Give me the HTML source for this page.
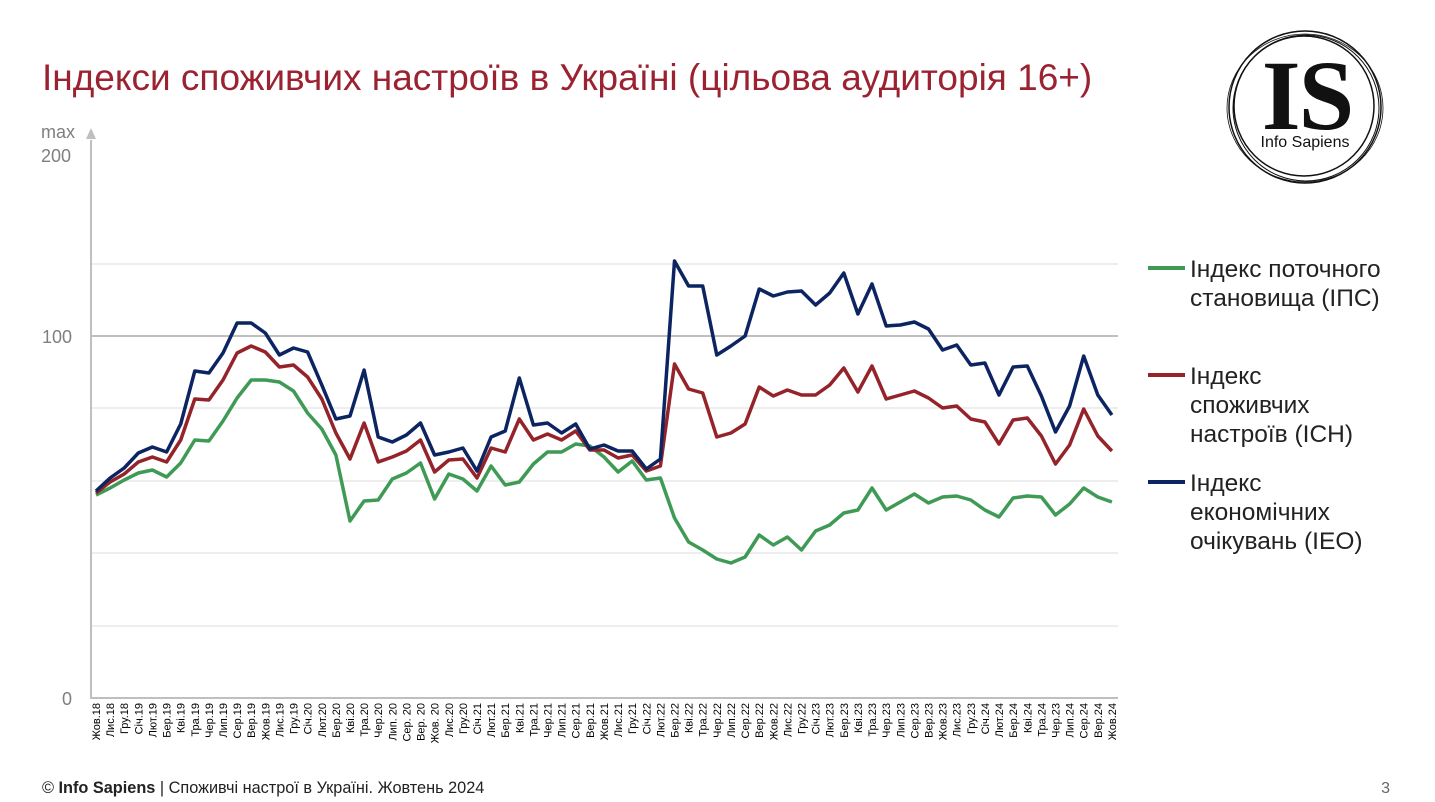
<!DOCTYPE html>
<html><head><meta charset="utf-8"><style>
html,body{margin:0;padding:0;background:#fff}
svg{display:block}
text{font-family:"Liberation Sans",sans-serif}
</style></head><body>
<svg id="s" width="1435" height="802" viewBox="0 0 1435 802" xmlns="http://www.w3.org/2000/svg">
<text x="42" y="90" font-size="37" fill="#9b2230">Індекси споживчих настроїв в Україні (цільова аудиторія 16+)</text>
<!-- logo -->
<g fill="none" stroke="#111">
<circle cx="1305" cy="107" r="76" stroke-width="1.5"/>
<circle cx="1306" cy="108" r="73" stroke-width="1"/>
<circle cx="1304" cy="106" r="70" stroke-width="1.5"/>
<ellipse cx="1305" cy="108" rx="78" ry="74" stroke-width="0.8"/>
</g>
<text x="1307" y="129" font-size="100" font-weight="bold" text-anchor="middle" fill="#111" style="font-family:'Liberation Serif',serif" letter-spacing="-2">IS</text>
<text x="1305" y="147" font-size="16" text-anchor="middle" fill="#111">Info Sapiens</text>
<!-- grid -->
<g stroke="#eeeeee" stroke-width="2">
<line x1="92" y1="264" x2="1118" y2="264"/>
<line x1="92" y1="408" x2="1118" y2="408"/>
<line x1="92" y1="481" x2="1118" y2="481"/>
<line x1="92" y1="553" x2="1118" y2="553"/>
<line x1="92" y1="626" x2="1118" y2="626"/>
</g>
<line x1="92" y1="336" x2="1118" y2="336" stroke="#bfbfbf" stroke-width="2"/>
<line x1="91" y1="140" x2="91" y2="699" stroke="#bfbfbf" stroke-width="2"/>
<line x1="90" y1="698" x2="1118" y2="698" stroke="#bfbfbf" stroke-width="2"/>
<polygon points="86,139 96,139 91,128" fill="#bfbfbf"/>
<g font-size="18" fill="#7f7f7f" text-anchor="end">
<text x="75" y="138">max</text>
<text x="71" y="162">200</text>
<text x="72" y="343">100</text>
<text x="72" y="705">0</text>
</g>
<g id="xl" font-size="11" fill="#000"></g>
<g id="ln" fill="none" stroke-width="3.5" stroke-linejoin="round"></g>
<!-- legend -->
<g font-size="24.5" fill="#222">
<line x1="1148" y1="268" x2="1185" y2="268" stroke="#3f9a55" stroke-width="4"/>
<text x="1190" y="277">Індекс поточного</text>
<text x="1190" y="306">становища (ІПС)</text>
<line x1="1148" y1="375" x2="1185" y2="375" stroke="#94232a" stroke-width="4"/>
<text x="1190" y="384">Індекс</text>
<text x="1190" y="413">споживчих</text>
<text x="1190" y="442">настроїв (ІСН)</text>
<line x1="1148" y1="482" x2="1185" y2="482" stroke="#0c2461" stroke-width="4"/>
<text x="1190" y="491">Індекс</text>
<text x="1190" y="520">економічних</text>
<text x="1190" y="549">очікувань (ІЕО)</text>
</g>
<text x="42" y="793" font-size="16.3" fill="#222">© <tspan font-weight="bold">Info Sapiens</tspan> | Споживчі настрої в Україні. Жовтень 2024</text>
<text x="1390" y="793" font-size="16" fill="#666" text-anchor="end">3</text>
</svg>
<script>
var L="Жов.18 Лис.18 Гру.18 Січ.19 Лют.19 Бер.19 Кві.19 Тра.19 Чер.19 Лип.19 Сер.19 Вер.19 Жов.19 Лис.19 Гру.19 Січ.20 Лют.20 Бер.20 Кві.20 Тра.20 Чер.20 Лип._20 Сер._20 Вер._20 Жов._20 Лис.20 Гру.20 Січ.21 Лют.21 Бер.21 Кві.21 Тра.21 Чер.21 Лип.21 Сер.21 Вер.21 Жов.21 Лис.21 Гру.21 Січ.22 Лют.22 Бер.22 Кві.22 Тра.22 Чер.22 Лип.22 Сер.22 Вер.22 Жов.22 Лис.22 Гру.22 Січ.23 Лют.23 Бер.23 Кві.23 Тра.23 Чер.23 Лип.23 Сер.23 Вер.23 Жов.23 Лис.23 Гру.23 Січ.24 Лют.24 Бер.24 Кві.24 Тра.24 Чер.23 Лип.24 Сер.24 Вер.24 Жов.24".split(" ");
var b=[491,478,468,453,447,452,424,371,373,353,323,323,333,355,348,352,385,419,416,370,437,442,435,423,455,452,448,471,437,431,378,425,423,433,424,449,445,451,451,469,459,261,286,286,355,346,336,289,296,292,291,305,293,273,314,284,326,325,322,329,350,345,365,363,395,367,366,396,432,406,356,395,415];
var r=[493,482,474,462,457,462,440,399,400,380,353,346,352,367,365,377,399,433,459,423,462,457,451,440,472,460,459,478,448,452,419,440,434,440,431,450,450,458,455,471,466,364,389,393,437,433,424,387,396,390,395,395,385,368,392,366,399,395,391,398,408,406,419,422,444,420,418,436,464,445,409,436,451];
var g=[495,488,480,473,470,477,463,440,441,421,398,380,380,382,391,413,429,455,521,501,500,479,473,463,499,474,479,491,466,485,482,464,452,452,444,446,457,472,461,480,478,518,542,550,559,563,557,535,545,537,550,531,525,513,510,488,510,502,494,503,497,496,500,510,517,498,496,497,515,504,488,497,502];
var ns="http://www.w3.org/2000/svg";
function X(i){return 96+i*14.11;}
var xl=document.getElementById("xl");
L.forEach(function(t,i){var e=document.createElementNS(ns,"text");e.setAttribute("text-anchor","end");e.setAttribute("transform","translate("+(X(i)+4)+",703) rotate(-90)");e.textContent=t.replace("_"," ");xl.appendChild(e);});
var ln=document.getElementById("ln");
[[g,"#3f9a55"],[r,"#94232a"],[b,"#0c2461"]].forEach(function(s){var p=document.createElementNS(ns,"polyline");p.setAttribute("points",s[0].map(function(y,i){return X(i).toFixed(1)+","+y}).join(" "));p.setAttribute("stroke",s[1]);ln.appendChild(p);});
</script>
</body></html>
